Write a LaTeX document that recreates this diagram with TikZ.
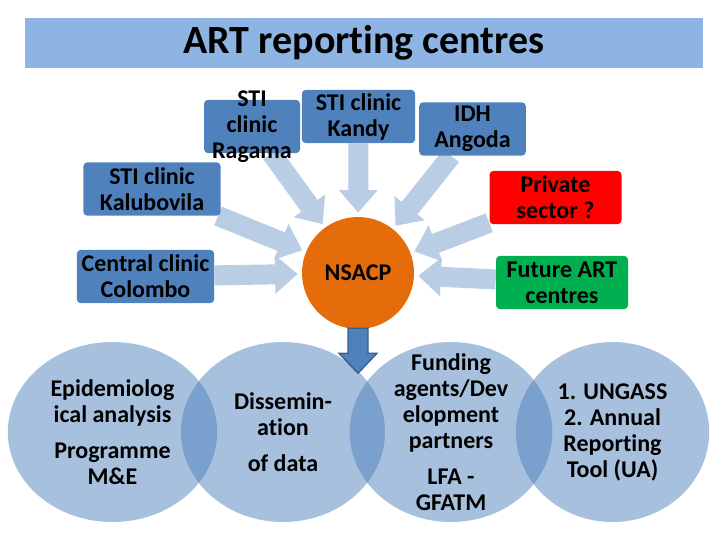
\documentclass[tikz,border=0pt]{standalone}
\usepackage{fontspec}
\setmainfont{Carlito}[Ligatures=NoCommon]
\usetikzlibrary{arrows.meta,shapes.geometric,backgrounds}

\definecolor{barblue}{RGB}{141,180,226}
\definecolor{boxblue}{RGB}{79,129,189}
\definecolor{boxline}{RGB}{56,93,138}
\definecolor{feedblue}{RGB}{185,205,229}
\definecolor{privred}{RGB}{255,0,0}
\definecolor{futgreen}{RGB}{0,176,80}
\definecolor{huborange}{RGB}{228,108,10}

\tikzset{
  boxtext/.style={font=\bfseries\fontsize{18}{19.5}\selectfont, align=center},
  centre/.style={rectangle, rounded corners=3pt, fill=boxblue, boxtext, inner sep=0pt, minimum height=40pt},
  feed/.style={draw=feedblue, line width=15pt, -{Triangle[width=28pt,length=17pt]}, shorten >=3pt},
  user/.style={ellipse, fill=boxblue, fill opacity=0.5, inner sep=0pt, minimum height=135pt}
}

\begin{document}
\begin{tikzpicture}[x=0.75pt,y=-0.75pt]
\useasboundingbox (0,0) rectangle (720,540);

\node[fill=barblue, minimum width=508.5pt, minimum height=37.5pt, font=\bfseries\fontsize{30}{34}\selectfont] (title) at (364,43) {ART reporting centres};

\node[circle, fill=huborange, minimum size=84pt, boxtext] (nsacp) at (358,273) {NSACP};

\node[centre, minimum width=72pt, label={[boxtext]center:STI\\clinic\\Ragama}] (ragama) at (252,126.5) {};
\node[centre, minimum width=85pt] (kandy) at (358.5,116.5) {STI clinic\\Kandy};
\node[centre, minimum width=80pt] (idh) at (472.5,129) {IDH\\Angoda};
\node[centre, minimum width=103pt] (kalu) at (152,189) {STI clinic\\Kalubovila};
\node[centre, minimum width=103pt] (colombo) at (145.5,276.5) {Central clinic\\Colombo};
\node[centre, fill=privred, minimum width=99pt] (private) at (555.5,197.5) {Private\\sector ?};
\node[centre, fill=futgreen, minimum width=99pt] (future) at (562,282.5) {Future ART\\centres};

\begin{scope}[on background layer]
\draw[feed] (ragama) -- (nsacp);
\draw[feed] (kandy) -- (nsacp);
\draw[feed] (idh) -- (nsacp);
\draw[feed] (kalu) -- (nsacp);
\draw[feed] (colombo) -- (nsacp);
\draw[feed] (private) -- (nsacp);
\draw[feed] (future) -- (nsacp);
\end{scope}

% users of the data
\node[user, minimum width=157pt, label={[boxtext]center:Epidemiolog\\ical analysis\\[8pt]Programme\\M\&E}] (epi) at (112.5,432) {};
\node[user, minimum width=153pt, label={[boxtext]center:Dissemin-\\ation\\[8pt]of data}] (dissem) at (283,432) {};
\node[user, minimum width=152pt, label={[boxtext]center:Funding\\agents/Dev\\elopment\\partners\\[8pt]LFA -\\GFATM}] (funding) at (451,432) {};
\node[user, minimum width=145pt, label={[boxtext]center:1. UNGASS\\2. Annual\\Reporting\\Tool (UA)}] (ungass) at (612.5,432) {};

\draw[boxline, fill=boxblue, line width=1pt, line join=miter] ([shift={(-10,-1)}]nsacp.south) -- ++(0,25) -- ++(-9,0) -- ++(19,20) -- ++(19,-20) -- ++(-9,0) -- ++(0,-25) -- cycle;
\end{tikzpicture}
\end{document}
